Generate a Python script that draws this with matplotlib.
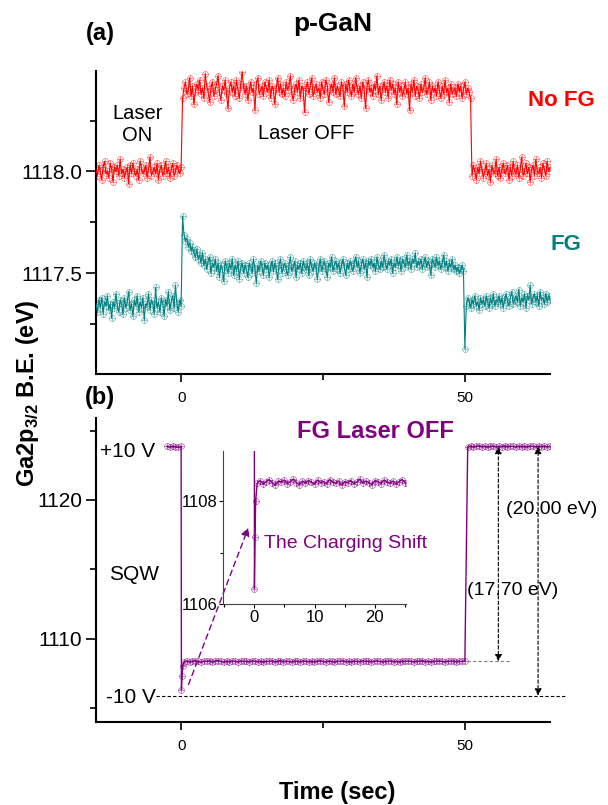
import numpy as np
import matplotlib.pyplot as plt
from matplotlib.path import Path
from matplotlib.ticker import MultipleLocator, FixedLocator, FormatStrFormatter

plt.rcParams['font.family'] = ['Liberation Sans', 'DejaVu Sans']
plt.rcParams['mathtext.fontset'] = 'custom'
plt.rcParams['mathtext.rm'] = 'Liberation Sans'
plt.rcParams['mathtext.bf'] = 'Liberation Sans:bold'

# ---- panel (a): p-GaN, Ga2p3/2 binding energy vs time, 0.25 s sampling ----
time_a = np.arange(-15, 65.001, 0.25)

no_fg = [
    # laser on (-15 .. 0 s)
    1118.01, 1117.98, 1118.03, 1118.00, 1117.96, 1118.02, 1118.05, 1117.99, 1118.00, 1117.97, 1118.04, 1118.01,
    1117.95, 1118.02, 1118.00, 1118.03, 1117.98, 1118.06, 1117.99, 1118.01, 1117.97, 1118.00, 1118.02, 1117.94,
    1118.03, 1117.99, 1118.04, 1118.00, 1117.98, 1118.01, 1117.96, 1118.05, 1118.02, 1117.99, 1118.00, 1118.03,
    1117.97, 1118.01, 1118.07, 1117.98, 1118.00, 1118.02, 1117.99, 1118.04, 1117.96, 1118.01, 1118.03, 1117.98,
    1118.00, 1118.05, 1117.99, 1118.02, 1117.97, 1118.01, 1118.04, 1117.98, 1118.00, 1118.03, 1118.01, 1117.99,
    1118.02,
    # laser off (0.25 .. 51 s)
    1118.36, 1118.41, 1118.44, 1118.38, 1118.40, 1118.46, 1118.37, 1118.42, 1118.33, 1118.39, 1118.43, 1118.40,
    1118.45, 1118.38, 1118.41, 1118.36, 1118.48, 1118.42, 1118.39, 1118.34, 1118.41, 1118.44, 1118.37, 1118.40,
    1118.43, 1118.47, 1118.39, 1118.35, 1118.42, 1118.40, 1118.45, 1118.38, 1118.31, 1118.41, 1118.44, 1118.39,
    1118.42, 1118.37, 1118.45, 1118.40, 1118.36, 1118.43, 1118.49, 1118.41, 1118.38, 1118.42, 1118.35, 1118.40,
    1118.44, 1118.39, 1118.41, 1118.30, 1118.43, 1118.46, 1118.38, 1118.40, 1118.42, 1118.37, 1118.44, 1118.41,
    1118.39, 1118.45, 1118.36, 1118.42, 1118.40, 1118.33, 1118.41, 1118.46, 1118.39, 1118.43, 1118.38, 1118.41,
    1118.37, 1118.44, 1118.40, 1118.42, 1118.47, 1118.38, 1118.35, 1118.41, 1118.43, 1118.39, 1118.45, 1118.36,
    1118.42, 1118.40, 1118.29, 1118.41, 1118.44, 1118.38, 1118.42, 1118.46, 1118.37, 1118.40, 1118.43, 1118.39,
    1118.41, 1118.36, 1118.44, 1118.40, 1118.38, 1118.45, 1118.42, 1118.34, 1118.40, 1118.43, 1118.39, 1118.46,
    1118.38, 1118.42, 1118.40, 1118.37, 1118.44, 1118.41, 1118.32, 1118.43, 1118.39, 1118.45, 1118.40, 1118.37,
    1118.43, 1118.39, 1118.46, 1118.41, 1118.38, 1118.42, 1118.36, 1118.44, 1118.40, 1118.31, 1118.42, 1118.45,
    1118.39, 1118.41, 1118.37, 1118.43, 1118.40, 1118.47, 1118.38, 1118.42, 1118.35, 1118.41, 1118.44, 1118.39,
    1118.42, 1118.36, 1118.45, 1118.40, 1118.43, 1118.38, 1118.41, 1118.33, 1118.44, 1118.39, 1118.42, 1118.37,
    1118.40, 1118.44, 1118.38, 1118.41, 1118.30, 1118.43, 1118.39, 1118.45, 1118.37, 1118.42, 1118.40, 1118.36,
    1118.43, 1118.39, 1118.41, 1118.46, 1118.38, 1118.40, 1118.44, 1118.35, 1118.42, 1118.39, 1118.41, 1118.37,
    1118.44, 1118.40, 1118.36, 1118.42, 1118.38, 1118.45, 1118.39, 1118.41, 1118.34, 1118.43, 1118.38, 1118.40,
    1118.41, 1118.37, 1118.43, 1118.39, 1118.42, 1118.36, 1118.40, 1118.44, 1118.38, 1118.41, 1118.39, 1118.36,
    # laser on again (51.25 .. 65 s)
    1117.98, 1118.03, 1118.00, 1117.96, 1118.02, 1117.99, 1118.05, 1118.01, 1117.97, 1118.00, 1118.04, 1117.98,
    1118.01, 1117.95, 1118.03, 1118.00, 1117.99, 1118.06, 1117.98, 1118.02, 1117.97, 1118.01, 1118.04, 1117.99,
    1118.00, 1118.03, 1117.96, 1118.02, 1117.98, 1118.05, 1118.00, 1117.99, 1118.03, 1117.97, 1118.01, 1118.07,
    1117.98, 1118.00, 1118.04, 1117.99, 1118.02, 1117.95, 1118.01, 1118.03, 1117.98, 1118.06, 1118.00, 1117.99,
    1118.02, 1117.97, 1118.04, 1118.01, 1117.98, 1118.05, 1118.00, 1118.02,
]

fg = [
    # laser on (-15 .. 0 s)
    1117.35, 1117.31, 1117.37, 1117.33, 1117.38, 1117.30, 1117.36, 1117.34, 1117.39, 1117.32, 1117.35, 1117.28,
    1117.36, 1117.33, 1117.40, 1117.34, 1117.31, 1117.37, 1117.35, 1117.30, 1117.38, 1117.33, 1117.36, 1117.41,
    1117.32, 1117.35, 1117.29, 1117.37, 1117.34, 1117.39, 1117.31, 1117.36, 1117.33, 1117.38, 1117.27, 1117.35,
    1117.34, 1117.40, 1117.32, 1117.37, 1117.35, 1117.30, 1117.43, 1117.33, 1117.36, 1117.31, 1117.38, 1117.35,
    1117.29, 1117.37, 1117.34, 1117.41, 1117.32, 1117.36, 1117.39, 1117.33, 1117.44, 1117.35, 1117.31, 1117.37,
    1117.34,
    # laser off (0.25 .. 49.75 s)
    1117.78, 1117.69, 1117.66, 1117.67, 1117.63, 1117.65, 1117.61, 1117.63, 1117.60, 1117.58, 1117.62, 1117.57,
    1117.59, 1117.55, 1117.60, 1117.54, 1117.57, 1117.52, 1117.56, 1117.58, 1117.50, 1117.55, 1117.53, 1117.57,
    1117.51, 1117.55, 1117.48, 1117.54, 1117.52, 1117.46, 1117.56, 1117.53, 1117.50, 1117.55, 1117.52, 1117.57,
    1117.49, 1117.54, 1117.51, 1117.56, 1117.47, 1117.53, 1117.55, 1117.50, 1117.54, 1117.52, 1117.48, 1117.55,
    1117.53, 1117.50, 1117.57, 1117.52, 1117.45, 1117.54, 1117.51, 1117.56, 1117.53, 1117.49, 1117.55, 1117.52,
    1117.54, 1117.48, 1117.53, 1117.56, 1117.51, 1117.55, 1117.52, 1117.47, 1117.54, 1117.57, 1117.50, 1117.53,
    1117.55, 1117.52, 1117.49, 1117.54, 1117.58, 1117.51, 1117.53, 1117.56, 1117.48, 1117.54, 1117.52, 1117.55,
    1117.50, 1117.56, 1117.53, 1117.52, 1117.55, 1117.49, 1117.57, 1117.53, 1117.51, 1117.55, 1117.54, 1117.47,
    1117.53, 1117.57, 1117.51, 1117.54, 1117.56, 1117.52, 1117.48, 1117.55, 1117.53, 1117.58, 1117.51, 1117.54,
    1117.56, 1117.52, 1117.55, 1117.50, 1117.54, 1117.57, 1117.53, 1117.49, 1117.55, 1117.52, 1117.56, 1117.54,
    1117.51, 1117.55, 1117.58, 1117.53, 1117.56, 1117.50, 1117.54, 1117.57, 1117.52, 1117.55, 1117.48, 1117.56,
    1117.54, 1117.57, 1117.53, 1117.55, 1117.51, 1117.58, 1117.54, 1117.52, 1117.56, 1117.53, 1117.59, 1117.55,
    1117.52, 1117.56, 1117.54, 1117.57, 1117.50, 1117.55, 1117.53, 1117.58, 1117.54, 1117.56, 1117.51, 1117.57,
    1117.55, 1117.53, 1117.59, 1117.54, 1117.56, 1117.52, 1117.57, 1117.55, 1117.60, 1117.53, 1117.56, 1117.54,
    1117.57, 1117.52, 1117.55, 1117.58, 1117.53, 1117.56, 1117.54, 1117.49, 1117.57, 1117.55, 1117.53, 1117.58,
    1117.54, 1117.56, 1117.52, 1117.55, 1117.59, 1117.53, 1117.56, 1117.51, 1117.55, 1117.53, 1117.57, 1117.52,
    1117.54, 1117.51, 1117.53, 1117.50, 1117.52, 1117.54, 1117.51,
    # switching transient (50 s)
    1117.13,
    # laser on again (50.25 .. 65 s)
    1117.34, 1117.38, 1117.36, 1117.33, 1117.37, 1117.35, 1117.39, 1117.34, 1117.36, 1117.32, 1117.38, 1117.35,
    1117.37, 1117.34, 1117.39, 1117.36, 1117.33, 1117.38, 1117.35, 1117.40, 1117.34, 1117.37, 1117.36, 1117.39,
    1117.35, 1117.38, 1117.33, 1117.37, 1117.40, 1117.36, 1117.34, 1117.38, 1117.41, 1117.35, 1117.37, 1117.39,
    1117.36, 1117.42, 1117.34, 1117.38, 1117.36, 1117.40, 1117.33, 1117.39, 1117.37, 1117.44, 1117.35, 1117.38,
    1117.40, 1117.36, 1117.39, 1117.34, 1117.41, 1117.37, 1117.38, 1117.35, 1117.40, 1117.36, 1117.39, 1117.37,
]

# ---- panel (b): square wave +10 V / -10 V with FG, laser off ----
time_b = np.concatenate([
    np.arange(-2.5, 0.01, 0.5),
    [0.05, 0.15, 0.25],
    np.arange(0.5, 50.01, 0.5),
    np.arange(50.5, 65.01, 0.5),
])

sqw = [
    # +10 V
    1123.86, 1123.80, 1123.88, 1123.83, 1123.79, 1123.85,
    # charging shift after switching to -10 V
    1106.30, 1107.30, 1108.00,
    # -10 V (0.5 .. 50 s)
    1108.35, 1108.40, 1108.33, 1108.38, 1108.42, 1108.36, 1108.31, 1108.39, 1108.37, 1108.41,
    1108.34, 1108.38, 1108.43, 1108.36, 1108.32, 1108.39, 1108.35, 1108.40, 1108.37, 1108.33,
    1108.41, 1108.36, 1108.38, 1108.34, 1108.42, 1108.37, 1108.35, 1108.39, 1108.31, 1108.38,
    1108.36, 1108.40, 1108.34, 1108.37, 1108.43, 1108.35, 1108.39, 1108.36, 1108.32, 1108.40,
    1108.38, 1108.34, 1108.41, 1108.37, 1108.35, 1108.39, 1108.33, 1108.38, 1108.42, 1108.36,
    1108.34, 1108.40, 1108.37, 1108.31, 1108.39, 1108.36, 1108.41, 1108.35, 1108.38, 1108.33,
    1108.40, 1108.37, 1108.35, 1108.42, 1108.36, 1108.39, 1108.34, 1108.38, 1108.41, 1108.36,
    1108.33, 1108.39, 1108.37, 1108.40, 1108.35, 1108.38, 1108.32, 1108.41, 1108.36, 1108.39,
    1108.37, 1108.34, 1108.40, 1108.36, 1108.43, 1108.35, 1108.38, 1108.33, 1108.39, 1108.37,
    1108.41, 1108.36, 1108.34, 1108.39, 1108.37, 1108.40, 1108.35, 1108.38, 1108.36, 1108.39,
    # +10 V again (50.5 .. 65 s)
    1123.84, 1123.88, 1123.81, 1123.86, 1123.90, 1123.83, 1123.87, 1123.80, 1123.85, 1123.89,
    1123.82, 1123.86, 1123.84, 1123.91, 1123.83, 1123.87, 1123.85, 1123.81, 1123.88, 1123.84,
    1123.86, 1123.82, 1123.89, 1123.85, 1123.83, 1123.87, 1123.84, 1123.88, 1123.82, 1123.86,
]

RED = "#ff0000"
TEAL = "#008080"
PURPLE = "#800080"

# circle with a cross, like Origin's "circle plus" symbol
OPLUS = Path.make_compound_path(
    Path.unit_circle(),
    Path([[-1, 0], [1, 0], [0, -1], [0, 1]],
         [Path.MOVETO, Path.LINETO, Path.MOVETO, Path.LINETO]),
)


def origin_axes(ax):
    for side in ("top", "right"):
        ax.spines[side].set_visible(False)
    for side in ("left", "bottom"):
        ax.spines[side].set_linewidth(1.5)
    ax.tick_params(axis="y", which="major", length=7, width=1.2,
                   labelsize=15, pad=3)
    ax.tick_params(axis="y", which="minor", length=4, width=1.2)
    ax.tick_params(axis="x", which="major", length=6, width=1.2,
                   labelsize=11, pad=6)
    ax.tick_params(axis="x", which="minor", length=4, width=1.2)
    ax.xaxis.set_major_locator(FixedLocator([0, 50]))
    ax.xaxis.set_minor_locator(FixedLocator([25]))
    ax.set_xlim(-15, 65)


def trace(ax, x, y, color, lw=0.8, ms=4.2, malpha=0.55):
    ax.plot(x, y, color=color, lw=lw, zorder=3)
    ax.plot(x, y, ls="none", marker=OPLUS, ms=ms, mfc="none",
            mec=color, mew=0.5, alpha=malpha, zorder=2)


def plot_panel_a(fig):
    ax = fig.add_axes([0.1579, 0.5354, 0.7467, 0.3768])
    origin_axes(ax)
    trace(ax, time_a, no_fg, RED)
    trace(ax, time_a, fg, TEAL)
    ax.set_ylim(1117.005, 1118.495)
    ax.yaxis.set_major_locator(MultipleLocator(0.5))
    ax.yaxis.set_minor_locator(MultipleLocator(0.25))
    ax.yaxis.set_major_formatter(FormatStrFormatter("%.1f"))

    ax.text(-7.7, 1118.23, "Laser\nON", ha="center", va="center",
            fontsize=14.5, linespacing=1.2)
    ax.text(22, 1118.186, "Laser OFF", ha="center", va="center", fontsize=14.5)
    ax.text(67.0, 1118.35, "No FG", ha="center", va="center", fontsize=16,
            fontweight="bold", color=RED, clip_on=False)
    ax.text(67.8, 1117.64, "FG", ha="center", va="center", fontsize=16,
            fontweight="bold", color=TEAL, clip_on=False)
    return ax


def plot_panel_b(fig):
    ax = fig.add_axes([0.1579, 0.1031, 0.7467, 0.3776])
    origin_axes(ax)
    trace(ax, time_b, sqw, PURPLE, lw=1.0, ms=4.2, malpha=0.6)
    ax.set_ylim(1104, 1125.9)
    ax.yaxis.set_major_locator(MultipleLocator(10))
    ax.yaxis.set_minor_locator(MultipleLocator(5))

    ax.text(-9.5, 1123.5, "+10 V", ha="center", va="center", fontsize=15)
    ax.text(-8.3, 1114.6, "SQW", ha="center", va="center", fontsize=15)
    ax.text(-8.8, 1105.76, "-10 V", ha="center", va="center", fontsize=15)
    ax.text(34.2, 1124.9, "FG Laser OFF", ha="center", va="center",
            fontsize=17, fontweight="bold", color=PURPLE)

    # reference levels and the two potential differences
    dash = (0, (3, 2))
    ax.plot([-4.4, 67.9], [1105.9, 1105.9], ls=dash, lw=0.8, color="black",
            clip_on=False)
    ax.plot([50.3, 58.2], [1108.37, 1108.37], ls=dash, lw=0.8, color="gray",
            clip_on=False)
    for x, low in [(55.9, 1108.37), (62.9, 1105.9)]:
        ax.annotate("", xy=(x, 1123.83), xytext=(x, low),
                    arrowprops=dict(arrowstyle="<|-|>", color="black", lw=0.8,
                                    linestyle=dash, shrinkA=0, shrinkB=0,
                                    mutation_scale=10))
    ax.text(57.2, 1119.28, "(20.00 eV)", ha="left", va="center",
            fontsize=14, clip_on=False)
    ax.text(58.5, 1113.5, "(17.70 eV)", ha="center", va="center",
            fontsize=14, clip_on=False)

    # pointer into the zoomed inset
    ax.annotate("", xy=(11.85, 1118.0), xytext=(1.3, 1106.7),
                arrowprops=dict(arrowstyle="-|>", color=PURPLE, lw=1.0,
                                linestyle=(0, (4, 3)), shrinkA=0, shrinkB=0,
                                mutation_scale=12))
    return ax


def plot_inset(fig):
    ax = fig.add_axes([0.3673, 0.2497, 0.3, 0.1904])
    ax.patch.set_alpha(0)
    for side in ("top", "right"):
        ax.spines[side].set_visible(False)
    for side in ("left", "bottom"):
        ax.spines[side].set_linewidth(0.8)
        ax.spines[side].set_color("#444444")
    trace(ax, time_b, sqw, PURPLE, lw=1.0, ms=4.2, malpha=0.6)
    ax.set_xlim(-5.1, 25.1)
    ax.set_ylim(1106, 1108.98)
    ax.xaxis.set_major_locator(MultipleLocator(10))
    ax.xaxis.set_minor_locator(MultipleLocator(5))
    ax.yaxis.set_major_locator(MultipleLocator(2))
    ax.yaxis.set_minor_locator(MultipleLocator(1))
    ax.tick_params(which="major", length=3, width=0.8, labelsize=12, pad=1.5)
    ax.tick_params(which="minor", length=2, width=0.8)
    ax.text(1.65, 1107.18, "The Charging Shift", ha="left", va="center",
            fontsize=14, color=PURPLE, clip_on=False)
    return ax


def main():
    fig = plt.figure(figsize=(6.08, 8.05), dpi=100)
    plot_panel_a(fig)
    plot_panel_b(fig)
    plot_inset(fig)

    fig.text(0.1645, 0.959, "(a)", ha="center", va="center", fontsize=17,
             fontweight="bold")
    fig.text(0.1645, 0.5056, "(b)", ha="center", va="center", fontsize=17,
             fontweight="bold")
    fig.text(0.548, 0.970, "p-GaN", ha="center", va="center", fontsize=19,
             fontweight="bold")
    fig.text(0.554, 0.016, "Time (sec)", ha="center", va="center",
             fontsize=17, fontweight="bold")
    fig.text(0.046, 0.511, r"Ga2p$_{\mathbf{3/2}}$ B.E. (eV)", rotation=90,
             ha="center", va="center", fontsize=17, fontweight="bold")

    fig.savefig("out.png", dpi=100)
    plt.close(fig)


if __name__ == "__main__":
    main()
